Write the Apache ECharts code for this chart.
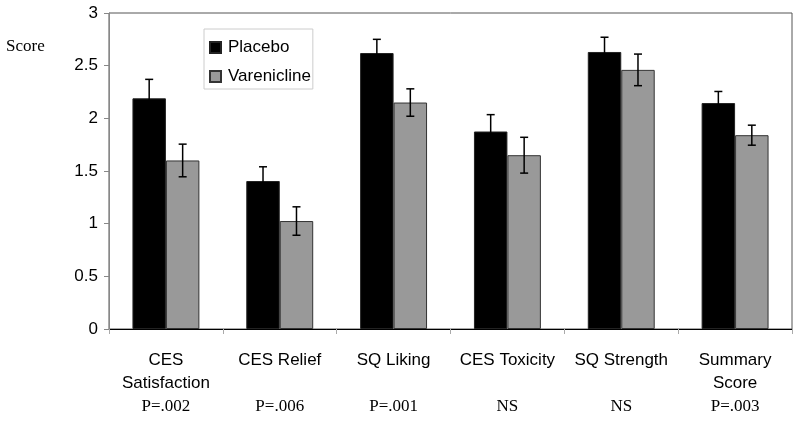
<!DOCTYPE html>
<html>
<head>
<meta charset="utf-8">
<script src="https://cdn.jsdelivr.net/npm/echarts@6/dist/echarts.min.js"></script>
<style>html,body{margin:0;padding:0;background:#fff}#c{width:800px;height:423px}</style>
</head>
<body>
<div id="c"></div>
<script>
const categories = ['CES\nSatisfaction', 'CES Relief', 'SQ Liking', 'CES Toxicity', 'SQ Strength', 'Summary\nScore'];
const pLabels = ['P=.002', 'P=.006', 'P=.001', 'NS', 'NS', 'P=.003'];
const placebo = [2.19, 1.405, 2.62, 1.875, 2.63, 2.145];
const placeboErr = [0.18, 0.135, 0.13, 0.16, 0.14, 0.11];
const varenicline = [1.60, 1.025, 2.15, 1.65, 2.46, 1.84];
const vareniclineErr = [0.155, 0.135, 0.13, 0.17, 0.15, 0.095];
const yTicks = [0, 0.5, 1, 1.5, 2, 2.5, 3];

const SANS = 'Liberation Sans, Arial, sans-serif';
const SERIF = 'Liberation Serif, Times New Roman, serif';
const BAR_FRAC = 0.294;

function errRender(sign) {
  return function (params, api) {
    const idx = api.value(0), v = api.value(1), e = api.value(2);
    const band = api.size([1, 0])[0];
    const c = api.coord([idx, v]);
    const x = c[0] + sign * band * BAR_FRAC / 2;
    const hi = api.coord([idx, v + e])[1];
    const lo = api.coord([idx, v - e])[1];
    const cap = 4;
    const st = { stroke: '#000', lineWidth: 1.5 };
    return {
      type: 'group',
      children: [
        { type: 'line', shape: { x1: x, y1: hi, x2: x, y2: lo }, style: st },
        { type: 'line', shape: { x1: x - cap, y1: hi, x2: x + cap, y2: hi }, style: st },
        { type: 'line', shape: { x1: x - cap, y1: lo, x2: x + cap, y2: lo }, style: st }
      ]
    };
  };
}

const chart = echarts.init(document.getElementById('c'), null, { renderer: 'canvas' });
chart.setOption({
  animation: false,
  backgroundColor: '#fff',
  grid: { left: 109, right: 8, top: 13, bottom: 94, show: true, borderColor: '#555', borderWidth: 1 },
  legend: {
    data: ['Placebo', 'Varenicline'],
    orient: 'vertical',
    left: 204, top: 29,
    padding: [10, 2, 4, 5],
    itemWidth: 11, itemHeight: 11, itemGap: 12,
    borderColor: '#ccc', borderWidth: 1,
    textStyle: { fontFamily: SANS, fontSize: 17, color: '#000', padding: [0, 0, 0, 2] },
    icon: 'rect'
  },
  graphic: [
    { type: 'text', left: 6, top: 38, style: { text: 'Score', font: '17px ' + SERIF, fill: '#000' } }
  ],
  xAxis: {
    type: 'category',
    data: categories,
    axisLine: { lineStyle: { color: '#000', width: 1 } },
    axisTick: { show: true, length: 5, lineStyle: { color: '#aaa' } },
    axisLabel: {
      margin: 20,
      formatter: function (val, i) {
        const lines = val.split('\n');
        const l2 = lines.length > 1 ? lines[1] : ' ';
        return '{a|' + lines[0] + '}\n{a|' + l2 + '}\n{p|' + pLabels[i] + '}';
      },
      rich: {
        a: { fontFamily: SANS, fontSize: 17, color: '#000', lineHeight: 23 },
        p: { fontFamily: SERIF, fontSize: 17, color: '#000', lineHeight: 24 }
      }
    }
  },
  yAxis: {
    type: 'value',
    min: 0, max: 3, interval: 0.5,
    splitLine: { show: false },
    axisLine: { show: true, lineStyle: { color: '#888' } },
    axisTick: { show: true, length: 5, lineStyle: { color: '#888' } },
    axisLabel: {
      margin: 11,
      fontFamily: SANS, fontSize: 17, color: '#000',
      formatter: function (v) { return yTicks.indexOf(v) >= 0 ? String(v) : ''; }
    }
  },
  series: [
    {
      name: 'Placebo', type: 'bar', data: placebo,
      barWidth: (BAR_FRAC * 100) + '%', barGap: '0%',
      itemStyle: { color: '#000', borderColor: '#222', borderWidth: 1 }
    },
    {
      name: 'Varenicline', type: 'bar', data: varenicline,
      barWidth: (BAR_FRAC * 100) + '%', barGap: '0%',
      itemStyle: { color: '#999', borderColor: '#333', borderWidth: 1 }
    },
    {
      type: 'custom', renderItem: errRender(-1), z: 5,
      data: placebo.map((v, i) => [i, v, placeboErr[i]])
    },
    {
      type: 'custom', renderItem: errRender(1), z: 5,
      data: varenicline.map((v, i) => [i, v, vareniclineErr[i]])
    }
  ]
});
</script>
</body>
</html>
